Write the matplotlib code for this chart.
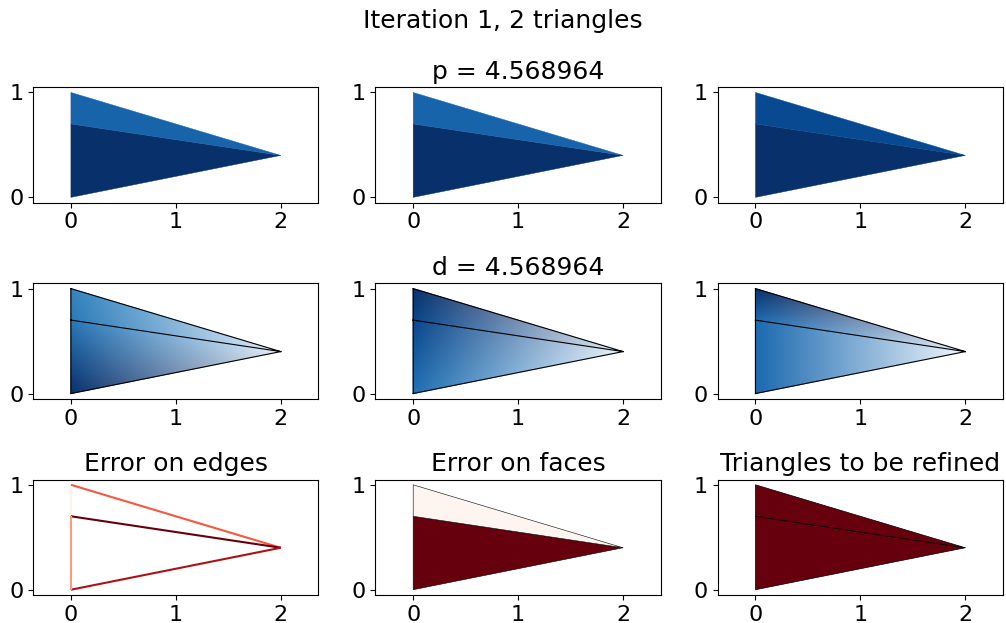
import numpy as np
import matplotlib
matplotlib.use("Agg")
import matplotlib.pyplot as plt
import matplotlib.tri as mtri
from matplotlib.collections import LineCollection

plt.rcParams["font.size"] = 16

# Mesh: four nodes, two triangles
node_x = [0.0, 2.0, 0.0, 0.0]
node_y = [0.0, 0.4, 0.7, 1.0]
triangles = [[0, 1, 2], [2, 1, 3]]

suptitle = "Iteration 1, 2 triangles"
p_value = 4.568964
d_value = 4.568964

# Per-triangle values (flat shading), normalised to [0, 1]
p_faces = [
    [1.00, 0.80],
    [1.00, 0.80],
    [1.00, 0.90],
]

# Per-node values (gouraud shading), normalised to [0, 1]
d_nodes = [
    [1.00, 0.08, 0.72, 0.68],
    [0.75, 0.05, 0.92, 1.00],
    [0.78, 0.02, 0.78, 1.00],
]

# Edge errors: (node_a, node_b, value)
edge_pairs = [(2, 3), (3, 1), (2, 1), (0, 1), (0, 2)]
edge_errors = [0.02, 0.55, 1.00, 0.85, 0.35]

face_errors = [1.0, 0.0]
refine_flags = [1.0, 1.0]

bottom_titles = ["Error on edges", "Error on faces", "Triangles to be refined"]

tri = mtri.Triangulation(node_x, node_y, triangles)

fig, axes = plt.subplots(3, 3, figsize=(10.06, 6.23), dpi=100)
fig.subplots_adjust(left=0.033, right=0.997, bottom=0.045, top=0.860,
                    wspace=0.2, hspace=0.70)
fig.suptitle(suptitle, fontsize=18, y=0.985)

for j in range(3):
    ax = axes[0, j]
    ax.tripcolor(tri, facecolors=np.array(p_faces[j]), cmap="Blues",
                 vmin=0, vmax=1, edgecolors="face", linewidth=0.3)
    if j == 1:
        ax.set_title(f"p = {p_value:f}", fontsize=18)

for j in range(3):
    ax = axes[1, j]
    ax.tripcolor(tri, np.array(d_nodes[j]), shading="gouraud", cmap="Blues",
                 vmin=0, vmax=1)
    ax.triplot(tri, color="k", lw=0.8)
    if j == 1:
        ax.set_title(f"d = {d_value:f}", fontsize=18)

# Edge errors
ax = axes[2, 0]
segs = [[(node_x[a], node_y[a]), (node_x[b], node_y[b])] for a, b in edge_pairs]
lc = LineCollection(segs, cmap="Reds", linewidths=1.5)
lc.set_array(np.array(edge_errors))
lc.set_clim(0, 1)
ax.add_collection(lc)
ax.plot(node_x, node_y, alpha=0)

# Face errors
ax = axes[2, 1]
ax.tripcolor(tri, facecolors=np.array(face_errors), cmap="Reds",
             vmin=0, vmax=1, edgecolors="k", linewidth=0.4)

# Refinement flags
ax = axes[2, 2]
ax.tripcolor(tri, facecolors=np.array(refine_flags), cmap="Reds",
             vmin=0, vmax=1, edgecolors="k", linewidth=0.5)

for j in range(3):
    axes[2, j].set_title(bottom_titles[j], fontsize=18)

for ax in axes.flat:
    ax.set_aspect("equal", adjustable="datalim")
    ax.set_xticks([0, 1, 2])
    ax.set_yticks([0, 1])

fig.savefig("out.png", dpi=100)
